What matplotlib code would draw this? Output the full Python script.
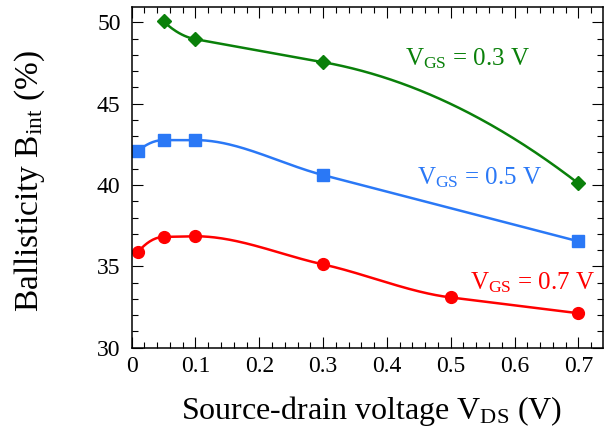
import matplotlib
matplotlib.use("Agg")
import matplotlib.pyplot as plt
from matplotlib.ticker import MultipleLocator
import numpy as np

# data
vds_03 = [0.05, 0.1, 0.3, 0.7]
bint_03 = [50.05, 48.96, 47.55, 40.10]

vds_05 = [0.01, 0.05, 0.1, 0.3, 0.7]
bint_05 = [42.09, 42.76, 42.76, 40.61, 36.54]

vds_07 = [0.01, 0.05, 0.1, 0.3, 0.5, 0.7]
bint_07 = [35.89, 36.81, 36.85, 35.12, 33.09, 32.12]

labels = ['$\\mathrm{V}_{\\mathrm{GS}}$ = 0.3 V',
          '$\\mathrm{V}_{\\mathrm{GS}}$ = 0.5 V',
          '$\\mathrm{V}_{\\mathrm{GS}}$ = 0.7 V']
colors = ['#0a800a', '#2a78f6', '#ff0000']
markers = ['D', 's', 'o']


def smooth_line(x, y, n=300):
    """smooth monotone curve through the markers (hermite, minmod slopes)"""
    x = np.asarray(x, float)
    y = np.asarray(y, float)
    d = np.diff(y) / np.diff(x)
    m = np.zeros(len(x))
    for i in range(1, len(x) - 1):
        if d[i - 1] * d[i] > 0:
            m[i] = np.sign(d[i]) * min(abs(d[i - 1]), abs(d[i]))
    m[0] = 2 * d[0] - m[1]
    m[-1] = 2 * d[-1] - m[-2]
    xs = np.linspace(x[0], x[-1], n)
    idx = np.clip(np.searchsorted(x, xs) - 1, 0, len(x) - 2)
    h = x[idx + 1] - x[idx]
    t = (xs - x[idx]) / h
    ys = (2 * t**3 - 3 * t**2 + 1) * y[idx] + (t**3 - 2 * t**2 + t) * h * m[idx] \
        + (-2 * t**3 + 3 * t**2) * y[idx + 1] + (t**3 - t**2) * h * m[idx + 1]
    return xs, ys


plt.rcParams['font.family'] = 'Liberation Serif'
plt.rcParams['mathtext.fontset'] = 'custom'
plt.rcParams['mathtext.rm'] = 'Liberation Serif'
plt.rcParams['mathtext.it'] = 'Liberation Serif:italic'

fig = plt.figure(figsize=(6.06, 4.34), dpi=100)
ax = fig.add_axes([0.2173, 0.1988, 0.9951 - 0.2173, 0.9839 - 0.1988])

series = [(vds_03, bint_03), (vds_05, bint_05), (vds_07, bint_07)]
sizes = [7, 8.5, 8.5]
for (x, y), c, mk, ms in zip(series, colors, markers, sizes):
    xs, ys = smooth_line(x, y)
    ax.plot(xs, ys, color=c, lw=1.8)
    ax.plot(x, y, ls='none', marker=mk, ms=ms, color=c, mec=c)

ax.text(0.428, 47.38, labels[0], color=colors[0], fontsize=18)
ax.text(0.447, 40.06, labels[1], color=colors[1], fontsize=18)
ax.text(0.530, 33.56, labels[2], color=colors[2], fontsize=18)

ax.set_xlim(0, 0.7387)
ax.set_ylim(30, 50.94)
ax.xaxis.set_minor_locator(MultipleLocator(0.02))
ax.yaxis.set_major_locator(MultipleLocator(5))
ax.yaxis.set_minor_locator(MultipleLocator(1))
ax.set_xticks([0, 0.1, 0.2, 0.3, 0.4, 0.5, 0.6, 0.7])
ax.set_xticklabels(['0', '0.1', '0.2', '0.3', '0.4', '0.5', '0.6', '0.7'])
ax.tick_params(which='both', direction='in', top=True, right=True,
               labelsize=17, width=0.8)
ax.tick_params(which='major', length=8)
ax.tick_params(which='minor', length=4)
ax.tick_params(axis='x', pad=6)
ax.tick_params(axis='y', pad=8)
for s in ax.spines.values():
    s.set_linewidth(1.1)

ax.set_xlabel('Source-drain voltage $\\mathrm{V}_{\\mathrm{DS}}$ (V)', fontsize=23)
ax.set_ylabel('Ballisticity $\\mathrm{B}_{\\mathrm{int}}$ (%)', fontsize=24)
ax.xaxis.set_label_coords(0.51, -0.135)
ax.yaxis.set_label_coords(-0.18, 0.49)

fig.savefig('out.png', dpi=100)
